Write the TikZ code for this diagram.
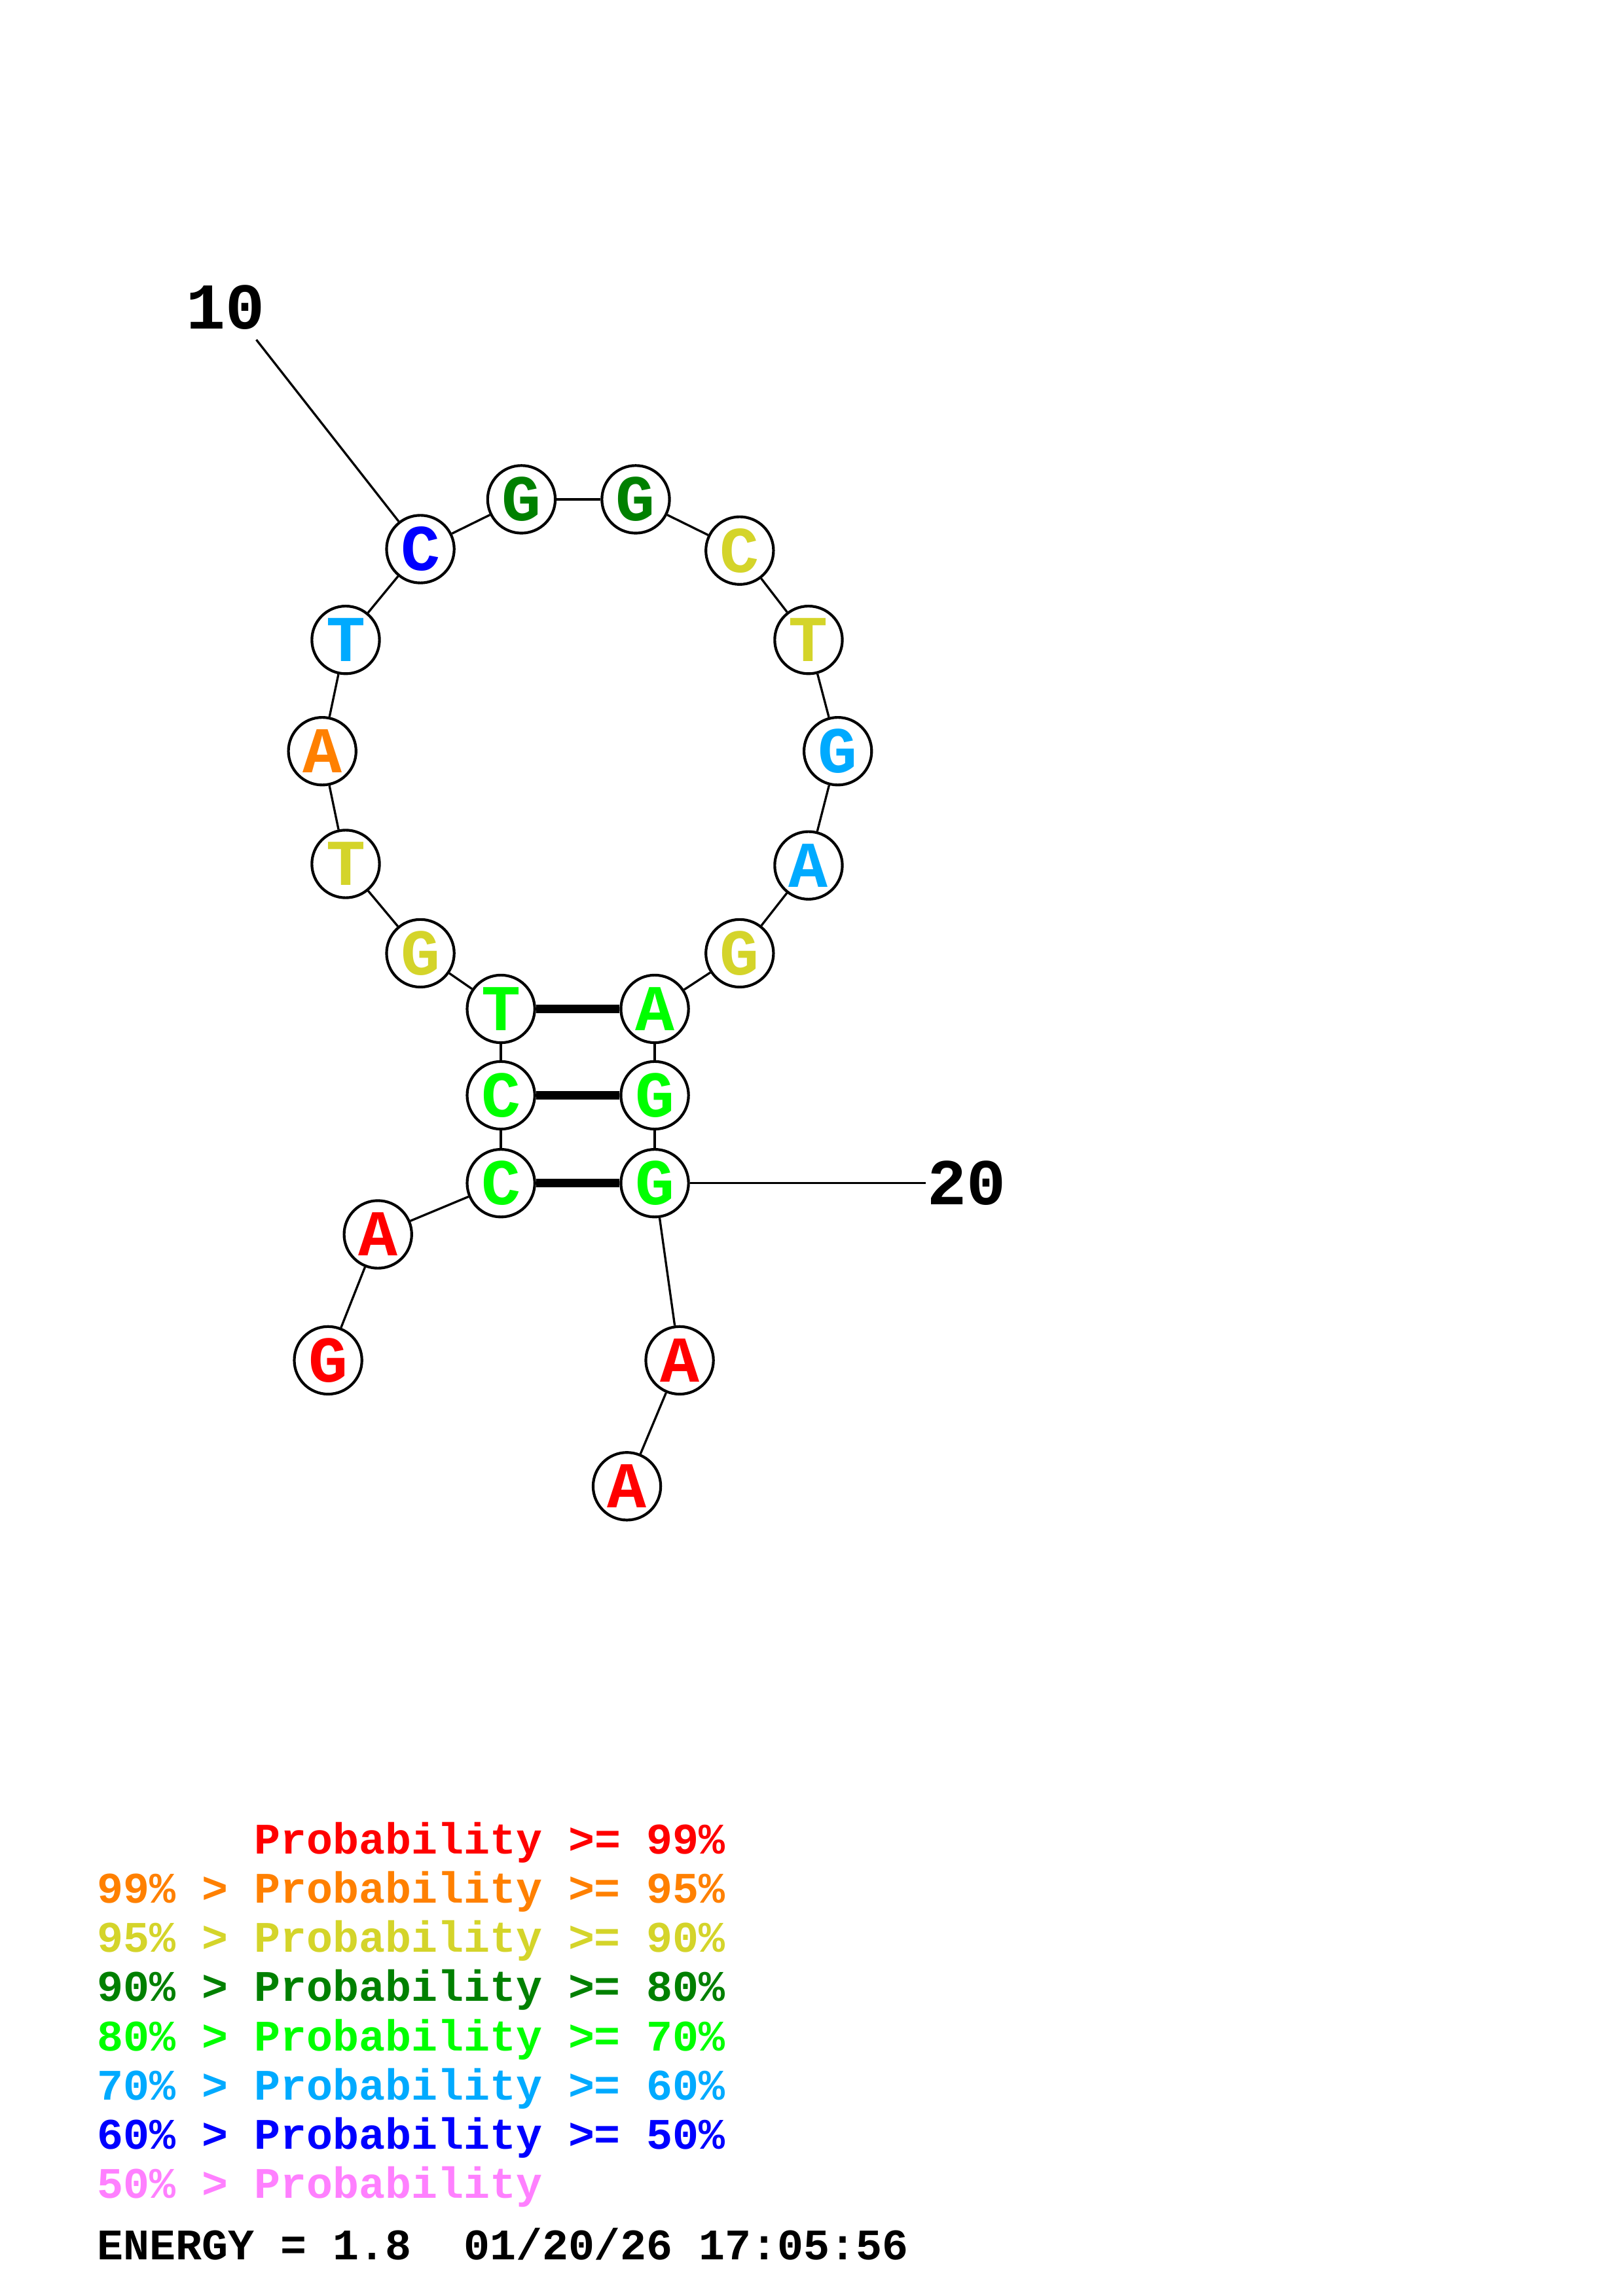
\documentclass[tikz,border=0pt]{standalone}
\usepackage{fontspec}
\setmonofont{Liberation Mono}
\definecolor{probRed}{RGB}{255,0,0}
\definecolor{probOrange}{RGB}{255,128,0}
\definecolor{probYellow}{RGB}{212,212,42}
\definecolor{probDkGreen}{RGB}{0,128,0}
\definecolor{probGreen}{RGB}{0,255,0}
\definecolor{probLtBlue}{RGB}{0,170,255}
\definecolor{probBlue}{RGB}{0,0,255}
\definecolor{probPink}{RGB}{255,128,255}
\tikzset{%
    base/.style = {
        circle, draw=black, fill=white, line width=1pt, minimum size=24.8pt,
        inner sep=0pt, font=\ttfamily\bfseries\fontsize{24}{24}\selectfont
    },
    nucRed/.style = {base, text=probRed},
    nucOrange/.style = {base, text=probOrange},
    nucYellow/.style = {base, text=probYellow},
    nucDkGreen/.style = {base, text=probDkGreen},
    nucGreen/.style = {base, text=probGreen},
    nucLtBlue/.style = {base, text=probLtBlue},
    nucBlue/.style = {base, text=probBlue},
    tickLabel/.style = {font=\ttfamily\bfseries\fontsize{24}{24}\selectfont},
    legend/.style = {
        anchor=base west, inner sep=0pt,
        font=\ttfamily\bfseries\fontsize{16}{16}\selectfont
    },
    backbone/.style = {line width=0.8pt},
    pairLine/.style = {line width=3.2pt},
}

\begin{document}
\begin{tikzpicture}[x=0.5373pt, y=-0.5373pt]
    \useasboundingbox (0,0) rectangle (1108,1568);
    % Nodes position
    \node (g1)  [nucRed]     at (224,929)  {G};
    \node (a2)  [nucRed]     at (258,843)  {A};
    \node (c3)  [nucGreen]   at (342,808)  {C};
    \node (c4)  [nucGreen]   at (342,748)  {C};
    \node (t5)  [nucGreen]   at (342,689)  {T};
    \node (g6)  [nucYellow]  at (287,651)  {G};
    \node (t7)  [nucYellow]  at (236,590)  {T};
    \node (a8)  [nucOrange]  at (220,513)  {A};
    \node (t9)  [nucLtBlue]  at (236,437)  {T};
    \node (c10) [nucBlue]    at (287,375)  {C};
    \node (g11) [nucDkGreen] at (356,341)  {G};
    \node (g12) [nucDkGreen] at (434,341)  {G};
    \node (c13) [nucYellow]  at (505,376)  {C};
    \node (t14) [nucYellow]  at (552,437)  {T};
    \node (g15) [nucLtBlue]  at (572,513)  {G};
    \node (a16) [nucLtBlue]  at (552,591)  {A};
    \node (g17) [nucYellow]  at (505,651)  {G};
    \node (a18) [nucGreen]   at (447,689)  {A};
    \node (g19) [nucGreen]   at (447,748)  {G};
    \node (g20) [nucGreen]   at (447,808)  {G};
    \node (a21) [nucRed]     at (464,929)  {A};
    \node (a22) [nucRed]     at (428,1015) {A};

    \node (lab10) [tickLabel] at (154,210) {10};
    \coordinate (tick10) at (175,232);
    \node (lab20) [tickLabel] at (660,808) {20};
    \coordinate (tick20) at (632,808);

    % Backbone
    \foreach \from/\to in {g1/a2, a2/c3, c3/c4, c4/t5, t5/g6, g6/t7, t7/a8,
        a8/t9, t9/c10, c10/g11, g11/g12, g12/c13, c13/t14, t14/g15,
        g15/a16, a16/g17, g17/a18, a18/g19, g19/g20, g20/a21, a21/a22}
        \draw[backbone] (\from) -- (\to);
    \draw[backbone] (tick10) -- (c10);
    \draw[backbone] (g20) -- (tick20);
    % Base pairs
    \draw[pairLine] (c3) -- (g20);
    \draw[pairLine] (c4) -- (g19);
    \draw[pairLine] (t5) -- (a18);

    % Legend
    \node (leg99) [legend, text=probRed]     at (66,1266)
        {\phantom{99\% > }Probability >= 99\%};
    \node (leg95) [legend, text=probOrange]  at (66,1299.6)
        {99\% > Probability >= 95\%};
    \node (leg90) [legend, text=probYellow]  at (66,1333.2)
        {95\% > Probability >= 90\%};
    \node (leg80) [legend, text=probDkGreen] at (66,1366.8)
        {90\% > Probability >= 80\%};
    \node (leg70) [legend, text=probGreen]   at (66,1400.4)
        {80\% > Probability >= 70\%};
    \node (leg60) [legend, text=probLtBlue]  at (66,1434)
        {70\% > Probability >= 60\%};
    \node (leg50) [legend, text=probBlue]    at (66,1467.6)
        {60\% > Probability >= 50\%};
    \node (leg00) [legend, text=probPink]    at (66,1501.2)
        {50\% > Probability};
    \node (energy) [legend] at (66,1543)
        {ENERGY = 1.8\ \ 01/20/26 17:05:56};
\end{tikzpicture}
\end{document}
